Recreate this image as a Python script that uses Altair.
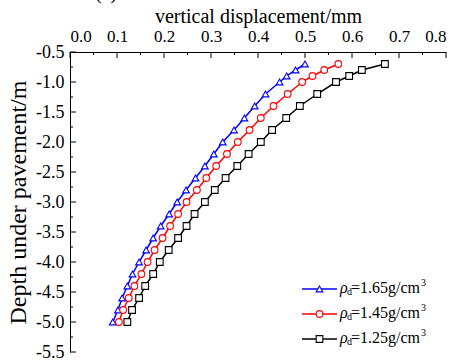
import altair as alt
import pandas as pd

# ---- data ----
depth = [-0.7, -0.8, -0.9, -1.0, -1.2, -1.4, -1.6, -1.8, -2.0, -2.2, -2.4, -2.6,
         -2.8, -3.0, -3.2, -3.4, -3.6, -3.8, -4.0, -4.2, -4.4, -4.6, -4.8, -5.0]
disp_165 = [0.500, 0.480, 0.461, 0.446, 0.416, 0.393, 0.371, 0.349, 0.325, 0.306, 0.287, 0.267,
            0.247, 0.228, 0.211, 0.193, 0.177, 0.162, 0.147, 0.133, 0.122, 0.111, 0.102, 0.091]
disp_145 = [0.571, 0.541, 0.516, 0.494, 0.463, 0.433, 0.406, 0.382, 0.357, 0.334, 0.311, 0.290,
            0.270, 0.248, 0.230, 0.213, 0.197, 0.180, 0.165, 0.152, 0.137, 0.125, 0.113, 0.104]
disp_125 = [0.670, 0.621, 0.594, 0.566, 0.526, 0.489, 0.460, 0.430, 0.406, 0.380, 0.356, 0.331,
            0.308, 0.287, 0.265, 0.248, 0.230, 0.210, 0.191, 0.177, 0.160, 0.147, 0.132, 0.122]
series = ["1.65", "1.45", "1.25"]
legend_text = ["=1.65g/cm", "=1.45g/cm", "=1.25g/cm"]
colors = ["#0000ff", "#ff0000", "#000000"]
shapes = ["triangle-up", "circle", "square"]

x_major = [0.0, 0.1, 0.2, 0.3, 0.4, 0.5, 0.6, 0.7, 0.8]
x_minor = [0.05, 0.15, 0.25, 0.35, 0.45, 0.55, 0.65, 0.75]
y_major = [-0.5, -1.0, -1.5, -2.0, -2.5, -3.0, -3.5, -4.0, -4.5, -5.0, -5.5]
y_minor = [-0.75, -1.25, -1.75, -2.25, -2.75, -3.25, -3.75, -4.25, -4.75, -5.25]

FONT = "Liberation Serif"
W, H = 376, 300

rows = []
for s, vals in zip(series, [disp_165, disp_145, disp_125]):
    for d, v in zip(depth, vals):
        rows.append({"series": s, "depth": d, "disp": v})
df = pd.DataFrame(rows)

xs = alt.Scale(domain=[0, 0.8], nice=False, zero=False)
ys = alt.Scale(domain=[-5.5, -0.5], nice=False, zero=False)
cs = alt.Scale(domain=series, range=colors)
ss = alt.Scale(domain=series, range=shapes)

x_axis = alt.Axis(orient="top", title="vertical displacement/mm",
                  values=x_major, format=".1f", ticks=False, grid=False,
                  domainColor="black", domainWidth=1,
                  labelFont=FONT, labelFontSize=17, labelColor="black",
                  labelPadding=7, titleFont=FONT, titleFontSize=20,
                  titleFontWeight="normal", titleColor="black", titlePadding=1)
y_axis = alt.Axis(orient="left", title="Depth under pavement/m",
                  values=y_major, ticks=False, grid=False,
                  labelExpr="replace(format(datum.value, '.1f'), '\u2212', '-')",
                  domainColor="black", domainWidth=1,
                  labelFont=FONT, labelFontSize=18, labelColor="black",
                  labelPadding=6, titleFont=FONT, titleFontSize=24,
                  titleFontWeight="normal", titleColor="black", titlePadding=5)

lines = alt.Chart(df).mark_line(strokeWidth=1.5).encode(
    x=alt.X("disp:Q", scale=xs, axis=x_axis),
    y=alt.Y("depth:Q", scale=ys, axis=y_axis),
    color=alt.Color("series:N", scale=cs, legend=None),
    detail="series:N",
    order="depth:Q",
)

points = alt.Chart(df).mark_point(size=45, strokeWidth=1.1, fill="white", fillOpacity=1).encode(
    x=alt.X("disp:Q", scale=xs, axis=x_axis),
    y=alt.Y("depth:Q", scale=ys, axis=y_axis),
    stroke=alt.Stroke("series:N", scale=cs, legend=None),
    shape=alt.Shape("series:N", scale=ss, legend=None),
)

one = pd.DataFrame({"k": [0]})

def xticks(vals, length):
    return alt.Chart(pd.DataFrame({"disp": vals})).mark_rule(color="black", strokeWidth=1).encode(
        x=alt.X("disp:Q", scale=xs, axis=x_axis), y=alt.value(0), y2=alt.value(length))

def yticks(vals, length):
    return alt.Chart(pd.DataFrame({"depth": vals})).mark_rule(color="black", strokeWidth=1).encode(
        y=alt.Y("depth:Q", scale=ys, axis=y_axis), x=alt.value(0), x2=alt.value(length))

layers = [lines, points, xticks(x_major, 6), xticks(x_minor, 3), yticks(y_major, 6), yticks(y_minor, 3)]

# custom legend
ly0, lstep = 237, 25
for i, s in enumerate(series):
    yrow = ly0 + i * lstep
    layers.append(alt.Chart(one).mark_rule(color=colors[i], strokeWidth=1.5).encode(
        x=alt.value(232), x2=alt.value(267), y=alt.value(yrow)))
    layers.append(alt.Chart(one).mark_point(shape=shapes[i], size=45, strokeWidth=1.1, fill="white",
                                            fillOpacity=1, color=colors[i]).encode(
        x=alt.value(249.5), y=alt.value(yrow)))
    layers.append(alt.Chart(one).mark_text(text="\u03c1", font=FONT, fontSize=16, fontStyle="italic",
                                           align="left", baseline="middle", color="black").encode(
        x=alt.value(270), y=alt.value(yrow - 1)))
    layers.append(alt.Chart(one).mark_text(text="d", font=FONT, fontSize=10,
                                           align="left", baseline="middle", color="black").encode(
        x=alt.value(277), y=alt.value(yrow + 3)))
    layers.append(alt.Chart(one).mark_text(text=legend_text[i], font=FONT, fontSize=16,
                                           align="left", baseline="middle", color="black").encode(
        x=alt.value(281), y=alt.value(yrow - 1)))
    layers.append(alt.Chart(one).mark_text(text="3", font=FONT, fontSize=10,
                                           align="left", baseline="middle", color="black").encode(
        x=alt.value(351), y=alt.value(yrow - 6)))

# panel label, cut off at the top of the figure as in the reference
layers.append(alt.Chart(one).mark_text(text="(a)", font=FONT, fontSize=20, align="center",
                                       baseline="alphabetic", color="black").encode(
    x=alt.value(36), y=alt.value(-53)))

chart = alt.layer(*layers).properties(
    width=W, height=H,
    autosize=alt.AutoSizeParams(type="none"),
    padding={"left": 70, "top": 52, "right": 8, "bottom": 11},
    background="white",
).configure_view(stroke=None)

chart.save("out.html", embed_options={"renderer": "svg", "actions": False})
